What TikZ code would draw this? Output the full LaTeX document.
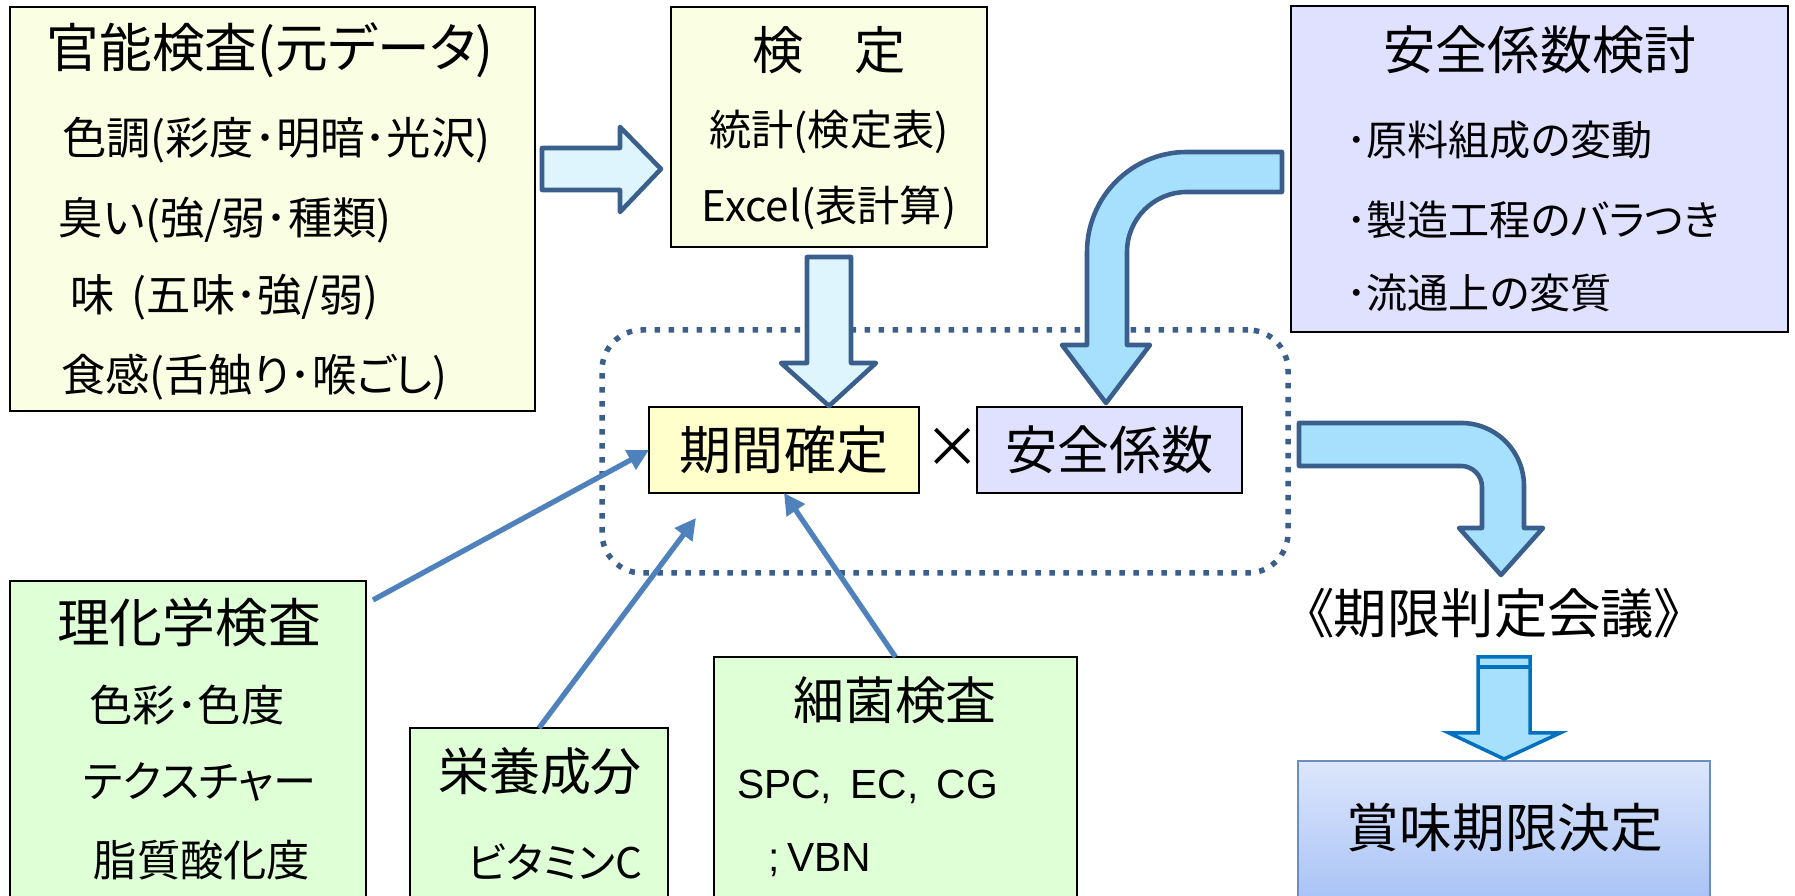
\documentclass[tikz,border=0pt]{standalone}
\usepackage{fontspec}
\setmainfont{Noto Sans CJK JP}[RawFeature=+palt]
\newfontfamily\arialfont{Liberation Sans}
\usetikzlibrary{arrows.meta,shadings}
\definecolor{paleyellow}{HTML}{FAFFE4}
\definecolor{kikanfill}{HTML}{FFFFCC}
\definecolor{lavender}{HTML}{E0E0FF}
\definecolor{greenfill}{HTML}{DFFFD6}
\definecolor{palecyan}{HTML}{DFF5FE}
\definecolor{skycyan}{HTML}{A7E0FD}
\definecolor{fatline}{HTML}{3A5F8C}
\definecolor{feedblue}{HTML}{4F81BD}
\definecolor{brightblue}{HTML}{0070C0}
\definecolor{shomitop}{HTML}{DCE6FC}
\definecolor{shomibot}{HTML}{A2BEF5}
\definecolor{shomiline}{HTML}{6C8EBF}
\newcommand{\jfs}[1]{\fontsize{#1}{#1}\selectfont}

\begin{document}
\begin{tikzpicture}[inner sep=0pt, outer sep=0pt,
    box/.style={draw=black, line width=0.6pt},
    fat/.style={draw=fatline, line width=1.3pt, line join=round},
    feed/.style={draw=feedblue, line width=1.5pt, -{Triangle[length=6pt,width=6pt]}},
    title/.style={font=\jfs{15}},
    item/.style={font=\jfs{12.6}, anchor=west}]
    \useasboundingbox (0,0) rectangle (17.95,8.96);

    \node[box, fill=paleyellow, minimum width=5.25cm, minimum height=4.04cm] (kanno) at (2.725,6.87) {};
    \node[title] (kannot) at (2.70,8.46) {官能検査(元データ)};
    \node[item] (kanno1) at (0.62,7.56) {色調(彩度･明暗･光沢)};
    \node[item] (kanno2) at (0.59,6.76) {臭い(強/弱･種類)};
    \node[item] (kanno3) at (0.70,5.99) {味\hspace{0.4em}(五味･強/弱)};
    \node[item] (kanno4) at (0.61,5.19) {食感(舌触り･喉ごし)};

    \node[box, fill=paleyellow, minimum width=3.16cm, minimum height=2.40cm] (kentei) at (8.29,7.69) {};
    \node[font=\jfs{14.6}] (kenteit) at (8.29,8.46) {検　定};
    \node[font=\jfs{12}] (kentei1) at (8.29,7.64) {統計(検定表)};
    \node[font=\jfs{12}] (kentei2) at (8.29,6.88) {Excel(表計算)};

    \node[box, fill=lavender, minimum width=4.97cm, minimum height=3.26cm] (kento) at (15.395,7.27) {};
    \node[font=\jfs{14.8}] (kentot) at (15.40,8.46) {安全係数検討};
    \node[item, font=\jfs{11.7}] (kento1) at (13.46,7.56) {･原料組成の変動};
    \node[item, font=\jfs{11.7}] (kento2) at (13.46,6.76) {･製造工程のバラつき};
    \node[item, font=\jfs{11.7}] (kento3) at (13.46,6.03) {･流通上の変質};

    \node[draw=fatline, line width=0.055cm, dash pattern=on 0.055cm off 0.085cm,
        rounded corners=0.4cm, minimum width=6.86cm, minimum height=2.43cm] (frame) at (9.45,4.445) {};
    \node[box, fill=kikanfill, minimum width=2.70cm, minimum height=0.86cm, font=\jfs{14.8}] (kikan) at (7.84,4.46) {期間確定};
    \node[font=\jfs{16}] (times) at (9.53,4.48) {×};
    \node[box, fill=lavender, minimum width=2.65cm, minimum height=0.86cm, font=\jfs{14.8}] (anzen) at (11.095,4.46) {安全係数};

    \node[box, fill=greenfill, minimum width=3.56cm, minimum height=3.39cm] (rika) at (1.88,1.455) {};
    \node[font=\jfs{15}] (rikat) at (1.89,2.74) {理化学検査};
    \node[font=\jfs{12.3}] (rika1) at (1.87,1.91) {色彩･色度};
    \node[font=\jfs{12.3}] (rika2) at (2.00,1.14) {テクスチャー};
    \node[font=\jfs{12.3}] (rika3) at (2.02,0.36) {脂質酸化度};

    \node[box, fill=greenfill, minimum width=2.58cm, minimum height=1.92cm] (eiyo) at (5.39,0.72) {};
    \node[font=\jfs{14.5}] (eiyot) at (5.40,1.25) {栄養成分};
    \node[font=\jfs{12}] (eiyo1) at (5.55,0.34) {ビタミンC};

    \node[box, fill=greenfill, minimum width=3.63cm, minimum height=2.63cm] (saikin) at (8.955,1.075) {};
    \node[font=\jfs{14.5}] (saikint) at (8.95,1.96) {細菌検査};
    \node[anchor=west, font=\arialfont\jfs{11.6}] (saikin1) at (7.37,1.09) {SPC,\hspace{0.45em}EC,\hspace{0.45em}CG};
    \node[anchor=west, font=\arialfont\jfs{11.6}] (saikin2) at (7.68,0.36) {;\hspace{0.2em}VBN};

    \node[font=\jfs{15.2}] (kaigi) at (14.94,2.83) {《期限判定会議》};

    \node[draw=shomiline, line width=0.6pt, top color=shomitop, bottom color=shomibot,
        minimum width=4.12cm, minimum height=1.59cm] (shomi) at (15.04,0.555) {};
    \node[font=\jfs{15}] (shomit) at (15.05,0.68) {賞味期限決定};

    % fat arrows
    \draw[fat, fill=palecyan] (5.42,7.48) -- (6.20,7.48) -- (6.20,7.69) -- (6.61,7.27)
        -- (6.20,6.84) -- (6.20,7.06) -- (5.42,7.06) -- cycle;
    \draw[fat, fill=palecyan] (8.07,6.39) -- (8.51,6.39) -- (8.51,5.33) -- (8.76,5.33)
        -- (8.29,4.90) -- (7.81,5.33) -- (8.07,5.33) -- cycle;
    \draw[fat, fill=skycyan] (12.82,7.44) -- (11.87,7.44) arc (90:180:1.00) -- (10.87,5.51)
        -- (10.62,5.51) -- (11.06,4.93) -- (11.50,5.51) -- (11.27,5.51) -- (11.27,6.44)
        arc (180:90:0.60) -- (12.82,7.04) -- cycle;
    \draw[fat, fill=skycyan] (12.99,4.73) -- (14.61,4.73) arc (90:0:0.63) -- (15.24,3.68)
        -- (15.43,3.68) -- (15.01,3.21) -- (14.59,3.68) -- (14.82,3.68) -- (14.82,4.09)
        arc (0:90:0.21) -- (12.99,4.30) -- cycle;
    \draw[draw=brightblue, line width=1pt, fill=skycyan] (14.78,2.39) -- (15.30,2.39) -- (15.30,1.63)
        -- (15.60,1.63) -- (15.04,1.37) -- (14.49,1.63) -- (14.78,1.63) -- cycle;
    \draw[brightblue, line width=1pt] (14.78,2.29) -- (15.30,2.29);

    % thin arrows
    \coordinate (eiyotip) at (6.96,3.78);
    \draw[feed] ([shift={(0.07,-0.19)}]rika.north east) -- (kikan.west);
    \draw[feed] (eiyo.north) -- (eiyotip);
    \draw[feed] (saikin.north) -- (kikan.south);
\end{tikzpicture}
\end{document}
